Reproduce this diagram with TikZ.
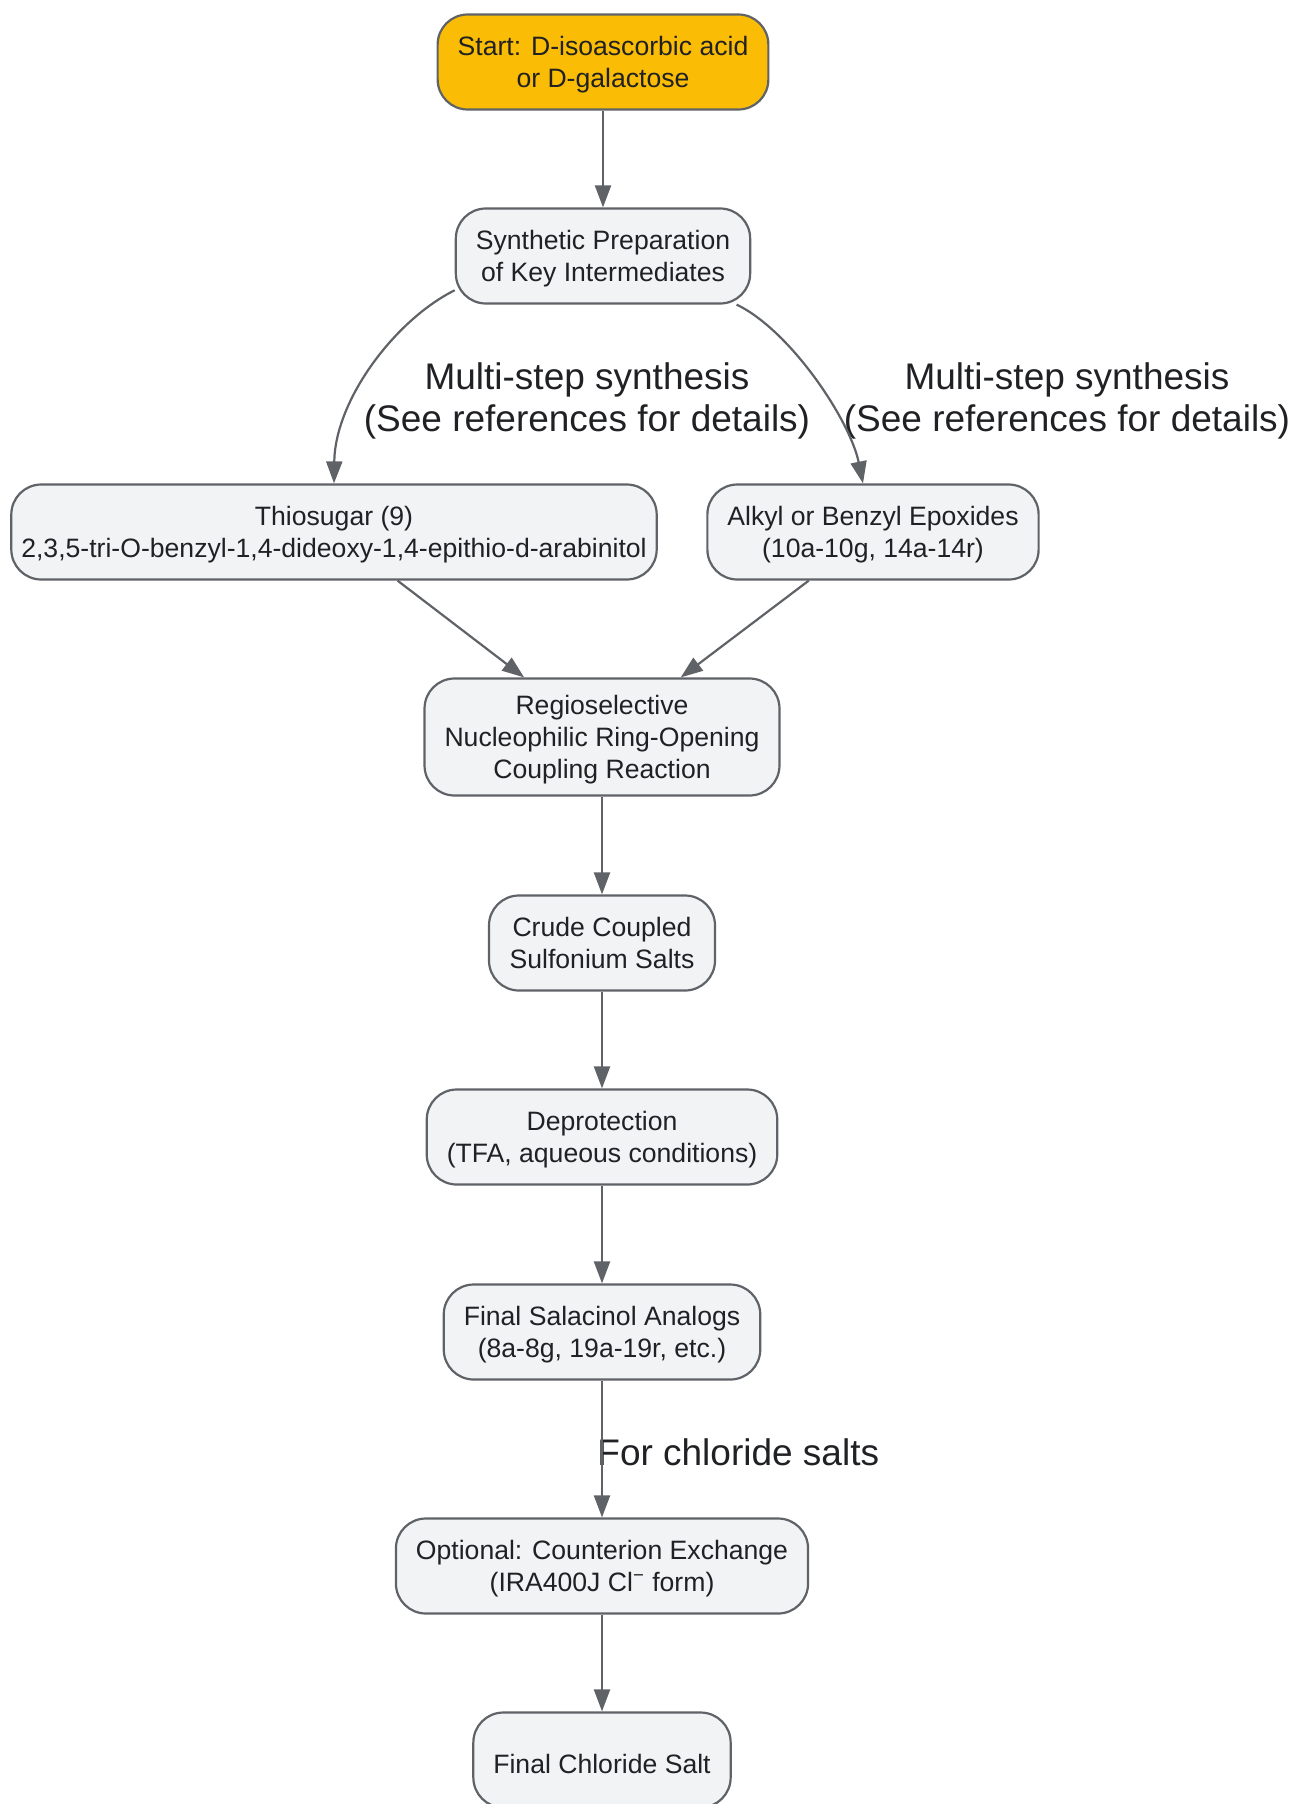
\documentclass[tikz,border=0pt]{standalone}
\usepackage{fontspec}
\setmainfont{Liberation Sans}
\usetikzlibrary{arrows.meta}
\usetikzlibrary{calc}
\definecolor{start-yellow}{RGB}{251, 188, 5}
\definecolor{box-grey}{RGB}{241, 243, 244}
\definecolor{line-grey}{RGB}{95, 99, 104}
\definecolor{text-dark}{RGB}{32, 33, 36}

\begin{document}
\begin{tikzpicture}[x=0.5pt, y=-0.5pt,
    textlift/.style={execute at begin node={\rule{0pt}{#1}}},
    stepbase/.style={draw=line-grey, fill=box-grey, line width=1.1pt, rounded corners=15pt,
        align=center, text=text-dark, font=\fontsize{13.3}{16}\selectfont,
        minimum height=47.5pt, inner xsep=10pt, inner ysep=7pt},
    stepbox/.style={stepbase, text depth=0pt},
    startbox/.style={stepbox, fill=start-yellow},
    flow/.style={draw=line-grey, line width=1.1pt, -{Triangle[length=11pt, width=8pt]}},
    edgelabel/.style={text=text-dark, font=\fontsize{18.5}{20.7}\selectfont, align=center, inner sep=0pt}]
\useasboundingbox (0,0) rectangle (1293,1804);

% boxes
\node[startbox] (start) at (603,62) {Start: D-isoascorbic acid\\or D-galactose};
\node[stepbox] (synth) at (603,256) {Synthetic Preparation\\of Key Intermediates};
\node[stepbox, inner xsep=5pt] (thio) at (334,532) {Thiosugar (9)\\2,3,5-tri-O-benzyl-1,4-dideoxy-1,4-epithio-d-arabinitol};
\node[stepbox] (alkyl) at (873,532) {Alkyl or Benzyl Epoxides\\(10a-10g, 14a-14r)};
\node[stepbox, minimum height=58.5pt] (regio) at (602,737) {Regioselective\\Nucleophilic Ring-Opening\\Coupling Reaction};
\node[stepbox, minimum width=113pt] (crude) at (602,943) {Crude Coupled\\Sulfonium Salts};
\node[stepbox] (deprot) at (602,1137) {Deprotection\\(TFA, aqueous conditions)};
\node[stepbox] (analogs) at (602,1332) {Final Salacinol Analogs\\(8a-8g, 19a-19r, etc.)};
\node[stepbox] (exchange) at (602,1566) {Optional: Counterion Exchange\\(IRA400J Cl\textsuperscript{\char"2212} form)};
\node[stepbase, textlift=13.2pt] (chloride) at (602,1760) {Final Chloride Salt};

% labels
\node[edgelabel] (lblA) at (587,401) {Multi-step synthesis\\(See references for details)};
\node[edgelabel] (lblB) at (1067,401) {Multi-step synthesis\\(See references for details)};
\node[edgelabel, anchor=west] (lblC) at (597,1452) {For chloride salts};

% arrows
\draw[flow] (start) -- (synth);
\draw[flow] (synth.193) .. controls (395,320) and (335,400) .. (thio.north);
\draw[flow] (synth.340) .. controls (790,330) and (850,420) .. ($(alkyl.north)+(-10,0)$);
\draw[flow] (thio) -- (regio);
\draw[flow] (alkyl) -- (regio);
\draw[flow] (regio) -- (crude);
\draw[flow] (crude) -- (deprot);
\draw[flow] (deprot) -- (analogs);
\draw[flow] (analogs) -- (exchange);
\draw[flow] (exchange) -- (chloride);
\end{tikzpicture}
\end{document}
